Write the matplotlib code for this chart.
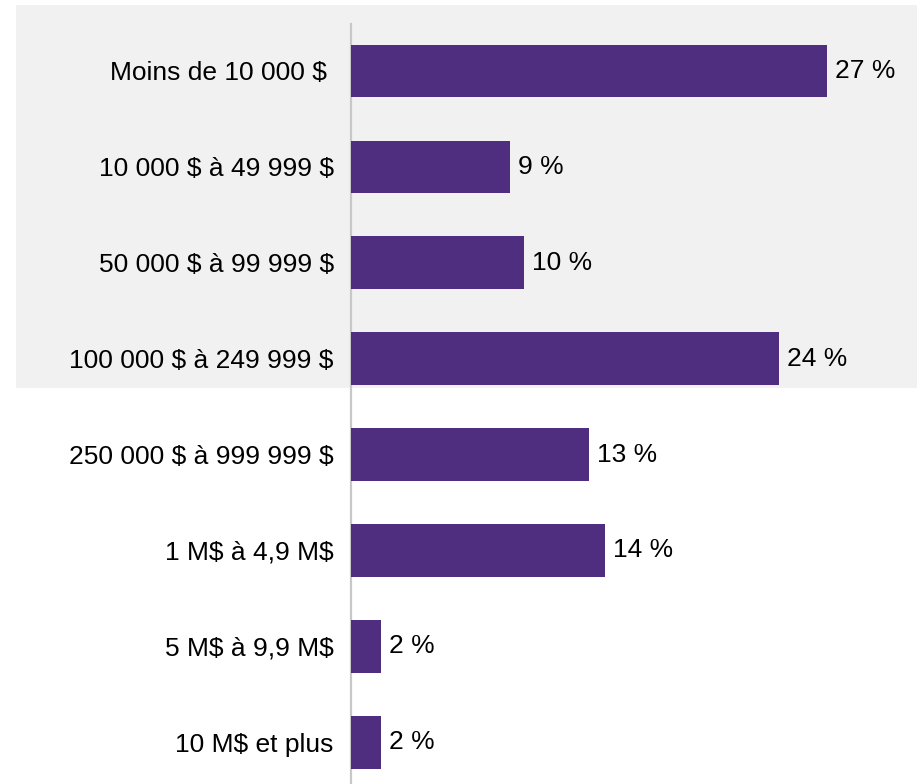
import matplotlib.pyplot as plt
from matplotlib.patches import Rectangle

categories = ["Moins de 10 000 $ ", "10 000 $ à 49 999 $", "50 000 $ à 99 999 $",
              "100 000 $ à 249 999 $", "250 000 $ à 999 999 $", "1 M$ à 4,9 M$",
              "5 M$ à 9,9 M$", "10 M$ et plus"]
shares = [26.6, 8.9, 9.7, 23.9, 13.3, 14.2, 1.7, 1.7]
shaded_rows = 4  # top rows sit on a grey band

purple = "#4F2D7F"
plt.rcParams['font.family'] = ['Liberation Sans', 'DejaVu Sans']
plt.rcParams['text.parse_math'] = False  # labels contain $ signs

W, H = 917, 784
fig = plt.figure(figsize=(W / 100, H / 100), dpi=100)

# grey band behind the first rows
band_bottom = 71 + (shaded_rows - 1) * 95.9 + 29.5
fig.patches.append(Rectangle((16 / W, 1 - band_bottom / H), 1 - 16 / W, (band_bottom - 5) / H,
                             transform=fig.transFigure, facecolor="#f1f1f1", edgecolor="none", zorder=-5))

# axes: left edge on the grey axis line, top at y=24 px, down to the bottom
ax = fig.add_axes([350.5 / W, 0, (W - 350.5) / W, (H - 24) / H])
ypos = list(range(len(categories)))
ax.barh(ypos, shares, height=0.55, color=purple, zorder=3)

ax.set_xlim(0, 31.6)
ax.set_ylim(7.435, -0.49)

for y, v in zip(ypos, shares):
    ax.text(v + 0.45, y, f"{round(v)} %", va="center", ha="left", fontsize=19, color="black")

ax.set_yticks(ypos)
ax.set_yticklabels(categories, fontsize=19)
ax.tick_params(axis="y", length=0, pad=12)
ax.set_xticks([])
for s in ["top", "right", "bottom"]:
    ax.spines[s].set_visible(False)
ax.spines["left"].set_color("#c8c8c8")
ax.spines["left"].set_linewidth(1.6)
ax.patch.set_alpha(0)

fig.savefig("out.png", dpi=100)
